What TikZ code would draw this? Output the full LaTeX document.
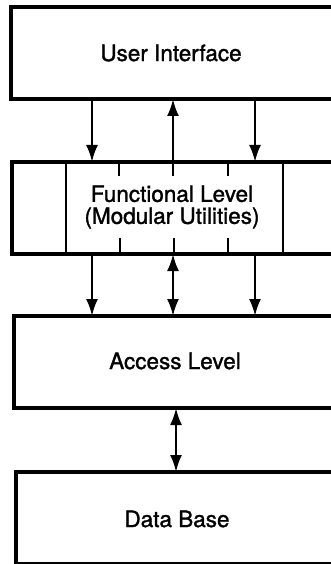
\documentclass[tikz,border=0pt]{standalone}
\usepackage{fontspec}
\setmainfont{TeX Gyre Heros}
\newfontfamily\heavyfont{TeX Gyre Heros}[FakeBold=1.4]
\usetikzlibrary{arrows.meta}

\tikzset{
  layer/.style={draw, line width=3.4pt, minimum width=340pt, inner sep=0pt, outer sep=0pt, anchor=north west},
  lbl/.style={font=\heavyfont\fontsize{22.5}{22}\selectfont, align=center},
  flow/.style={line width=2.4pt, -{Latex[length=17pt,width=12pt]}},
  both/.style={line width=2.4pt, {Latex[length=17pt,width=12pt]}-{Latex[length=17pt,width=12pt]}},
  sep/.style={line width=2.2pt}
}

\begin{document}
\begin{tikzpicture}[x=1pt,y=-1pt]
            \useasboundingbox (0,0) rectangle (331,564);
            \clip (0,0) rectangle (331,564);
            \node[layer, minimum height=92pt] (ui) at (11,7) {};
            \node[layer, minimum height=92pt] (fl) at (12,162) {};
            \node[layer, minimum height=92pt] (al) at (14,316) {};
            \node[layer, minimum height=92pt] (db) at (16,472) {};
            \node[lbl] (uitext) at (171,53) {User Interface};
            \node[lbl] (fltext) at (172,207) {Functional Level\\(Modular Utilities)};
            \node[lbl] (altext) at (175,361) {Access Level};
            \node[lbl] (dbtext) at (177,519) {Data Base};
            \draw[sep] (66,162) -- (66,254);
            \draw[sep] (283,162) -- (283,254);
            \draw[sep] (119,162) -- (119,176);
            \draw[sep] (228,162) -- (228,176);
            \draw[sep] (120,238) -- (120,254);
            \draw[sep] (174,238) -- (174,254);
            \draw[sep] (228,238) -- (228,254);
            \coordinate (c1) at (92,0);
            \coordinate (c2) at (173,0);
            \coordinate (c3) at (255,0);
            \coordinate (c4) at (176,0);
            \coordinate (up) at (173,176);
            \draw[flow] (c1 |- ui.south) -- (c1 |- fl.north);
            \draw[flow] (up) -- (c2 |- ui.south);
            \draw[flow] (c3 |- ui.south) -- (c3 |- fl.north);
            \draw[flow] (c1 |- fl.south) -- (c1 |- al.north);
            \draw[both] (c2 |- fl.south) -- (c2 |- al.north);
            \draw[flow] (c3 |- fl.south) -- (c3 |- al.north);
            \draw[both] (c4 |- al.south) -- (c4 |- db.north);
\end{tikzpicture}
\end{document}
